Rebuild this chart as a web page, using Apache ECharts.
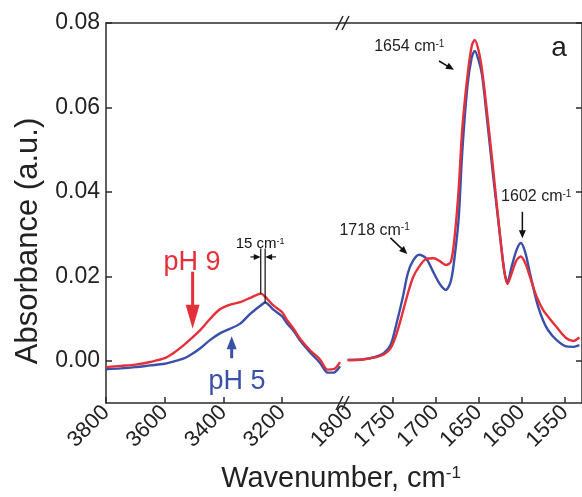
<!DOCTYPE html>
<html><head><meta charset="utf-8">
<script src="https://cdn.jsdelivr.net/npm/echarts@6/dist/echarts.min.js"></script>
<style>html,body{margin:0;padding:0;background:#fff}#c{width:582px;height:497px}</style>
</head><body><div id="c"></div>
<script>
// ---- data ----
const leftWavenumbers = [3800,3750,3700,3650,3600,3571,3537,3514,3480,3446,3412,3377,3343,3309,3290,3273,3258,3230,3200,3184,3160,3139,3105,3071,3045,3025,3003];
const leftPH9 = [-0.0015,-0.0012,-0.0009,-0.0003,0.0006,0.0018,0.0036,0.0050,0.0072,0.0099,0.0122,0.0133,0.0139,0.0149,0.0155,0.0159,0.0152,0.0131,0.0115,0.0097,0.0075,0.0052,0.0025,0.0003,-0.0021,-0.0020,-0.0003];
const leftPH5 = [-0.0020,-0.0018,-0.0015,-0.0011,-0.0007,-0.0002,0.0005,0.0013,0.0029,0.0049,0.0065,0.0076,0.0088,0.0111,0.0122,0.0131,0.0138,0.0121,0.0105,0.0089,0.0070,0.0048,0.0020,-0.0005,-0.0028,-0.0028,-0.0013];
const rightWavenumbers = [1802,1785,1770,1760,1752,1745,1738,1732,1726,1719,1711,1702,1695,1688,1682,1677,1673,1669,1663,1658,1654.5,1650,1646,1640.5,1633,1625,1620,1616.5,1612,1606,1601,1596,1590.5,1585,1581,1575,1569.5,1560,1548.5,1540,1533];
const rightPH9 = [0.0002,0.0003,0.0008,0.0015,0.0030,0.0065,0.0115,0.0160,0.0198,0.0223,0.0241,0.0243,0.0236,0.0227,0.0235,0.0310,0.0410,0.0547,0.0673,0.0745,0.0760,0.0735,0.0689,0.0594,0.0452,0.0294,0.0210,0.0182,0.0205,0.0238,0.0247,0.0232,0.0200,0.0165,0.0144,0.0120,0.0105,0.0081,0.0054,0.0047,0.0055];
const rightPH5 = [0.0002,0.0003,0.0009,0.0018,0.0038,0.0090,0.0150,0.0208,0.0237,0.0251,0.0243,0.0208,0.0182,0.0168,0.0190,0.0260,0.0340,0.0492,0.0649,0.0718,0.0734,0.0712,0.0677,0.0578,0.0436,0.0294,0.0210,0.0186,0.0220,0.0262,0.0279,0.0258,0.0208,0.0160,0.0129,0.0095,0.0073,0.0050,0.0034,0.0033,0.0037];
const leftTickLabels = [3800,3600,3400,3200];
const rightTickLabels = [1800,1750,1700,1650,1600,1550];
const yTickLabels = [0,0.02,0.04,0.06,0.08];
const seriesNames = ['pH 5','pH 9'];

// ---- styling ----
const FONT = '"Liberation Sans", Arial, sans-serif';
const AX = '#2b2b2b';
const RED = '#e5303a';
const BLUE = '#3a50a8';

function xAx(grid, min, max, ticks, labels, bottom) {
  return {
    type: 'value', gridIndex: grid, position: bottom ? 'bottom' : 'top',
    min: min, max: max, inverse: true,
    axisLine: {show: true, onZero: false, lineStyle: {color: AX, width: 1.5}},
    axisTick: bottom ? {show: true, inside: true, length: 6, customValues: ticks, lineStyle: {color: AX, width: 1.5}} : {show: false},
    axisLabel: bottom ? {show: true, customValues: labels, formatter: v => String(Math.round(v)), rotate: 45, margin: 6, fontSize: 22, fontFamily: FONT, color: '#222'} : {show: false},
    splitLine: {show: false}
  };
}
function yAx(grid, pos, labels) {
  return {
    type: 'value', gridIndex: grid, position: pos, min: -0.01, max: 0.08,
    axisLine: {show: true, lineStyle: {color: AX, width: 1.5}},
    axisTick: {show: true, inside: true, length: 6, customValues: yTickLabels, lineStyle: {color: AX, width: 1.5}},
    axisLabel: labels ? {show: true, customValues: yTickLabels, formatter: v => Number(v).toFixed(2), margin: 6, fontSize: 23, fontFamily: FONT, color: '#222'} : {show: false},
    splitLine: {show: false}
  };
}
function line(name, xi, wn, vals, color) {
  return {
    name: name, type: 'line', xAxisIndex: xi, yAxisIndex: xi < 2 ? 0 : 1,
    data: wn.map((w, i) => [w, vals[i]]),
    showSymbol: false, smooth: 0.3, clip: true,
    lineStyle: {color: color, width: 2.4}, itemStyle: {color: color}
  };
}

const option = {
  animation: false,
  backgroundColor: '#fff',
  grid: [
    {left: 106, top: 23, width: 239, height: 380},
    {left: 345, top: 23, width: 239, height: 380}
  ],
  xAxis: [
    xAx(0, 2986, 3800, leftTickLabels, leftTickLabels, true),
    xAx(0, 2986, 3800, [], [], false),
    xAx(1, 1530, 1805, rightTickLabels.slice(1), rightTickLabels, true),
    xAx(1, 1530, 1805, [], [], false)
  ],
  yAxis: [yAx(0, 'left', true), yAx(1, 'right', false)],
  series: [
    line(seriesNames[0], 0, leftWavenumbers, leftPH5, BLUE),
    line(seriesNames[1], 0, leftWavenumbers, leftPH9, RED),
    line(seriesNames[0], 2, rightWavenumbers, rightPH5, BLUE),
    line(seriesNames[1], 2, rightWavenumbers, rightPH9, RED)
  ]
};

const chart = echarts.init(document.getElementById('c'), null, {renderer: 'canvas'});
chart.setOption(option);

const L = (x, y) => chart.convertToPixel({seriesIndex: 0}, [x, y]);
const R = (x, y) => chart.convertToPixel({seriesIndex: 2}, [x, y]);

function arrow(p1, p2, color, lw, hl, hw) {
  const dx = p2[0] - p1[0], dy = p2[1] - p1[1];
  const d = Math.sqrt(dx * dx + dy * dy), ux = dx / d, uy = dy / d;
  const bx = p2[0] - ux * hl, by = p2[1] - uy * hl;
  return [
    {type: 'line', shape: {x1: p1[0], y1: p1[1], x2: bx + ux * 1, y2: by + uy * 1}, style: {stroke: color, lineWidth: lw}, z: 100},
    {type: 'polygon', shape: {points: [[p2[0], p2[1]], [bx - uy * hw, by + ux * hw], [bx + uy * hw, by - ux * hw]]}, style: {fill: color}, z: 100}
  ];
}
function seg(p1, p2, color, lw) {
  return {type: 'line', shape: {x1: p1[0], y1: p1[1], x2: p2[0], y2: p2[1]}, style: {stroke: color, lineWidth: lw}, z: 100};
}
function txt(p, main, sup, fs, color) {
  const s = sup ? '{n|' + main + '}{s|' + sup + '}' : '{n|' + main + '}';
  return {
    type: 'text', x: p[0], y: p[1], z: 100,
    style: {
      text: s, align: 'center', verticalAlign: 'middle', fill: color,
      rich: {
        n: {fontSize: fs, fontFamily: FONT, fill: color},
        s: {fontSize: Math.round(fs * 0.6), fontFamily: FONT, fill: color, verticalAlign: 'top'}
      }
    }
  };
}

const corner = L(2986, 0.08), cornerB = L(2986, -0.01);
const g = [];
// axis break marks
[corner, cornerB].forEach(c => {
  g.push(seg([c[0] - 9, c[1] + 7], [c[0] - 2, c[1] - 7], AX, 1.5));
  g.push(seg([c[0] - 3, c[1] + 7], [c[0] + 4, c[1] - 7], AX, 1.5));
});
// left-panel annotations
g.push(...arrow(L(3505, 0.0211), L(3505, 0.0076), RED, 3, 24, 7));
g.push(...arrow(L(3372, 0.0006), L(3372, 0.0058), BLUE, 3, 13, 5));
g.push(txt(L(3507, 0.0232), 'pH 9', '', 27, RED));
g.push(txt(L(3354, -0.0050), 'pH 5', '', 27, BLUE));
g.push(seg(L(3273, 0.0266), L(3273, 0.0159), '#111', 1.2));
g.push(seg(L(3258, 0.0266), L(3258, 0.0137), '#111', 1.2));
g.push(...arrow(L(3308, 0.0246), L(3273, 0.0246), '#111', 1.2, 7, 3));
g.push(...arrow(L(3221, 0.0246), L(3258, 0.0246), '#111', 1.2, 7, 3));
g.push(txt(L(3275, 0.0276), '15 cm', '-1', 15, '#111'));
// right-panel annotations
g.push(txt(R(1770.7, 0.0308), '1718 cm', '-1', 16, '#222'));
g.push(...arrow(R(1752.3, 0.0291), R(1732.7, 0.0253), '#111', 1.5, 8, 3.5));
g.push(txt(R(1730.4, 0.0743), '1654 cm', '-1', 16, '#222'));
g.push(...arrow(R(1695.9, 0.0710), R(1678.6, 0.0689), '#111', 1.5, 8, 3.5));
g.push(txt(R(1583.1, 0.0388), '1602 cm', '-1', 16, '#222'));
g.push(...arrow(R(1599.2, 0.0353), R(1599.2, 0.0290), '#111', 1.5, 8, 3.5));
g.push(txt(R(1556.6, 0.0741), 'a', '', 28, '#222'));
// axis titles
g.push({
  type: 'text', x: 341, y: 479, z: 100,
  style: {text: '{n|Wavenumber, cm}{s|-1}', align: 'center', verticalAlign: 'middle', fill: '#222',
    rich: {n: {fontSize: 29, fontFamily: FONT, fill: '#222'}, s: {fontSize: 17, fontFamily: FONT, fill: '#222', verticalAlign: 'top'}}}
});
g.push({
  type: 'text', x: 28, y: 241, rotation: Math.PI / 2, z: 100,
  style: {text: 'Absorbance (a.u.)', align: 'center', verticalAlign: 'middle', fill: '#222', fontSize: 31, fontFamily: FONT}
});
chart.setOption({graphic: {elements: g}});
</script>
</body></html>
